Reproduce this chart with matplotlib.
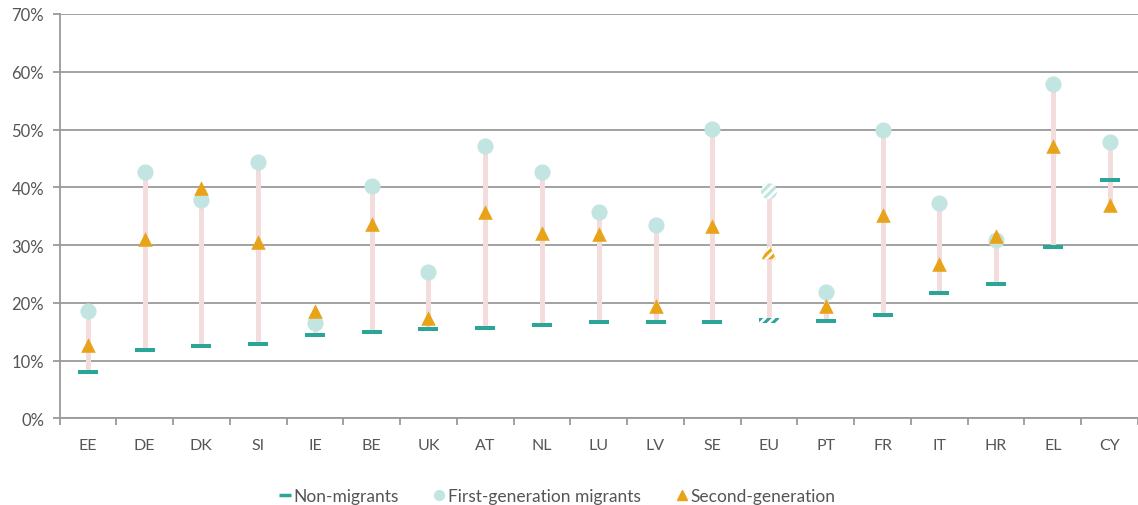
import matplotlib.pyplot as plt
import numpy as np
from matplotlib.lines import Line2D

plt.rcParams['font.family'] = ['Lato', 'DejaVu Sans']
plt.rcParams['hatch.color'] = 'white'
plt.rcParams['hatch.linewidth'] = 2.0

countries = ['EE', 'DE', 'DK', 'SI', 'IE', 'BE', 'UK', 'AT', 'NL', 'LU',
             'LV', 'SE', 'EU', 'PT', 'FR', 'IT', 'HR', 'EL', 'CY']
non_migrants = [8.1, 11.9, 12.6, 12.8, 14.5, 15.0, 15.5, 15.7, 16.1, 16.6,
                16.6, 16.7, 16.9, 16.9, 17.9, 21.7, 23.2, 29.7, 41.2]
first_gen = [18.5, 42.6, 37.8, 44.4, 16.5, 40.2, 25.4, 47.1, 42.7, 35.8,
             33.5, 50.1, 39.3, 21.8, 50.0, 37.2, 30.9, 57.9, 47.9]
second_gen = [12.7, 31.0, 39.8, 30.5, 18.5, 33.7, 17.4, 35.7, 32.1, 31.9,
              19.5, 33.3, 28.8, 19.5, 35.2, 26.7, 31.6, 47.2, 36.9]
hatched = ['EU']

teal = '#2aa597'
light = '#c2e5e2'
orange = '#e9a319'
pink = '#f2dcdc'
grid = '#9a9a9a'
txt = '#555555'

x = np.arange(len(countries))
nm = np.array(non_migrants)
fg = np.array(first_gen)
sg = np.array(second_gen)
lo = np.minimum(np.minimum(nm, fg), sg)
hi = np.maximum(np.maximum(nm, fg), sg)
plain = np.array([c not in hatched for c in countries])

fig = plt.figure(figsize=(11.38, 5.06), dpi=100)
ax = fig.add_axes([59.5 / 1138, 1 - 419.3 / 506, 1 - 59.5 / 1138, (419.3 - 15) / 506])

# connector from lowest to highest value
ax.vlines(x, lo, hi, color=pink, lw=3.6, zorder=2)

bar = [(-1, -0.22), (1, -0.22), (1, 0.22), (-1, 0.22), (-1, -0.22)]
ax.scatter(x[plain], nm[plain], marker=bar, s=220, color=teal, linewidths=0, zorder=3)
ax.scatter(x[plain], fg[plain], marker='o', s=135, color=light, linewidths=0, zorder=4)
ax.scatter(x[plain], sg[plain], marker='^', s=110, color=orange, linewidths=0, zorder=5)

# EU average drawn striped
h = ~plain
ax.scatter(x[h], nm[h], marker=bar, s=220, facecolor=teal, edgecolor='white',
           linewidths=0, hatch='////', zorder=3)
ax.scatter(x[h], fg[h], marker='o', s=135, facecolor=light, edgecolor='white',
           linewidths=0, hatch='////', zorder=4)
ax.scatter(x[h], sg[h], marker='^', s=110, facecolor=orange, edgecolor='white',
           linewidths=0, hatch='////', zorder=5)

ax.set_ylim(0, 70)
ax.set_xlim(-0.5, -0.5 + (1138 - 59.5) / 56.94)
ax.set_yticks(np.arange(0, 71, 10))
ax.set_yticklabels([f'{v}%' for v in range(0, 71, 10)])
ax.yaxis.grid(True, color=grid, lw=1.3)
ax.set_axisbelow(True)

ax.set_xticks(x)
ax.set_xticklabels(countries)
ax.set_xticks(np.arange(len(countries) + 1) - 0.5, minor=True)
ax.tick_params(axis='x', which='major', length=0, pad=14, labelsize=11.5, labelcolor=txt)
ax.tick_params(axis='x', which='minor', length=5, width=1.3, color=grid)
ax.tick_params(axis='y', length=5, width=1.3, color=grid, labelsize=12,
               labelcolor=txt, pad=6)

for s in ['top', 'right']:
    ax.spines[s].set_visible(False)
for s in ['left', 'bottom']:
    ax.spines[s].set_color(grid)
    ax.spines[s].set_linewidth(1.3)

handles = [
    Line2D([], [], color=teal, marker='_', ls='none', markersize=9, markeredgewidth=2.5),
    Line2D([], [], color=light, marker='o', ls='none', markersize=7),
    Line2D([], [], color=orange, marker='^', ls='none', markersize=7),
]
fig.legend(handles, ['Non-migrants', 'First-generation migrants', 'Second-generation'],
           loc='center', bbox_to_anchor=(557 / 1138, 1 - 497 / 506), ncol=3,
           frameon=False, fontsize=12.5, handlelength=0.7, handletextpad=0.15,
           columnspacing=2.0, labelcolor=txt)

fig.savefig('out.png', dpi=100)
